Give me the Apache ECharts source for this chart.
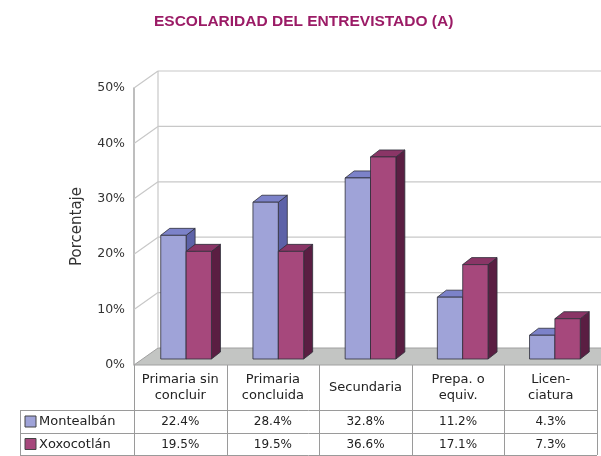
<!DOCTYPE html>
<html>
<head>
<meta charset="utf-8">
<script src="https://cdn.jsdelivr.net/npm/echarts@6/dist/echarts.min.js"></script>
<style>
  html, body { margin: 0; padding: 0; background: #fff; }
  #chart { width: 601px; height: 456px; }
</style>
</head>
<body>
<div id="chart"></div>
<script>
// datos
const categories = ['Primaria sin\nconcluir', 'Primaria\nconcluida', 'Secundaria', 'Prepa. o\nequiv.', 'Licen-\nciatura'];
const seriesNames = ['Montealbán', 'Xoxocotlán'];
const montealban = [22.4, 28.4, 32.8, 11.2, 4.3];
const xoxocotlan = [19.5, 19.5, 36.6, 17.1, 7.3];
const yTicks = [0, 10, 20, 30, 40, 50];

const FONT = '"DejaVu Sans", sans-serif';
const blue = { front: '#9fa3d8', top: '#7c82c9', side: '#5d62a8' };
const red = { front: '#a6487c', top: '#8a3566', side: '#5a1e42' };

// desplazamiento de la pared del fondo (pseudo 3D)
const wallDX = 24, wallDY = -17;
// profundidad de cada barra
const barDX = 9, barDY = -7;

const chart = echarts.init(document.getElementById('chart'));

// barra 3D: cara frontal + tapa + lado
const makeBars = (name, values, side, col) => ({
  name: name,
  type: 'custom',
  xAxisIndex: 1,
  yAxisIndex: 1,
  silent: true,
  z: 5,
  data: values.map((v, i) => [i, v]),
  renderItem: (params, api) => {
    const i = api.value(0), v = api.value(1);
    const top = api.coord([i, v]);
    const base = api.coord([i, 0]);
    const band = api.size([1, 0])[0];
    const w = band * 0.275;
    const x = side === 0 ? top[0] - w : top[0];
    const y = top[1], b = base[1];
    const line = { stroke: '#2e2e3a', lineWidth: 0.8 };
    return {
      type: 'group',
      children: [
        { type: 'polygon', shape: { points: [[x + w, y], [x + w + barDX, y + barDY], [x + w + barDX, b + barDY], [x + w, b]] },
          style: Object.assign({ fill: col.side }, line) },
        { type: 'polygon', shape: { points: [[x, y], [x + w, y], [x + w + barDX, y + barDY], [x + barDX, y + barDY]] },
          style: Object.assign({ fill: col.top }, line) },
        { type: 'rect', shape: { x: x, y: y, width: w, height: b - y },
          style: Object.assign({ fill: col.front }, line) }
      ]
    };
  }
});

// paredes: diagonales, líneas del fondo y piso
const wallSeries = {
  type: 'custom',
  xAxisIndex: 0,
  yAxisIndex: 0,
  silent: true,
  z: 1,
  data: yTicks.map(v => [0, v]),
  renderItem: (params, api) => {
    const v = api.value(1);
    const p = api.coord([0, v]);
    const band = api.size([1, 0])[0];
    const x0 = p[0] - band / 2;
    const y0 = p[1];
    const xEnd = params.coordSys.x + params.coordSys.width + 40;
    const grey = { stroke: '#c8c8c8', lineWidth: 1.2 };
    const children = [];
    if (v === 0) {
      const top = api.coord([0, yTicks[yTicks.length - 1]]);
      children.push({ type: 'polygon', shape: { points: [[x0, y0], [x0 + wallDX, y0 + wallDY], [xEnd + wallDX, y0 + wallDY], [xEnd, y0]] },
        style: { fill: '#c3c5c3', stroke: '#a0a0a0', lineWidth: 1 } });
      children.push({ type: 'line', shape: { x1: x0 + wallDX, y1: y0 + wallDY, x2: x0 + wallDX, y2: top[1] + wallDY }, style: grey });
    } else {
      children.push({ type: 'line', shape: { x1: x0, y1: y0, x2: x0 + wallDX, y2: y0 + wallDY }, style: grey });
      children.push({ type: 'line', shape: { x1: x0 + wallDX, y1: y0 + wallDY, x2: xEnd, y2: y0 + wallDY }, style: grey });
    }
    return { type: 'group', children: children };
  }
};

// tabla de datos debajo de la gráfica
const tableLeft = 134, tableRight = 597, legendLeft = 20;
const headTop = 365, row1 = 410, row2 = 433, row3 = 455;
const colW = (tableRight - tableLeft) / categories.length;
const tableLine = { stroke: '#9a9a9a', lineWidth: 1 };
const graphics = [];
for (let k = 0; k <= categories.length; k++) {
  const x = Math.round(tableLeft + k * colW) + 0.5;
  graphics.push({ type: 'line', shape: { x1: x, y1: headTop, x2: x, y2: row3 }, style: tableLine });
}
graphics.push({ type: 'line', shape: { x1: legendLeft + 0.5, y1: row1, x2: legendLeft + 0.5, y2: row3 }, style: tableLine });
[row1, row2, row3].forEach(y => {
  graphics.push({ type: 'line', shape: { x1: legendLeft, y1: y + 0.5, x2: tableRight, y2: y + 0.5 }, style: tableLine });
});
[[montealban, blue, row1], [xoxocotlan, red, row2]].forEach((r, s) => {
  const yc = (r[2] + (s === 0 ? row2 : row3)) / 2 + 0.5;
  graphics.push({ type: 'rect', shape: { x: legendLeft + 5, y: yc - 6, width: 11, height: 11 },
    style: { fill: r[1].front, stroke: '#444', lineWidth: 1 } });
  graphics.push({ type: 'text', x: legendLeft + 19, y: yc,
    style: { text: seriesNames[s], font: '13px ' + FONT, fill: '#222', verticalAlign: 'middle' } });
  r[0].forEach((v, i) => {
    graphics.push({ type: 'text', x: tableLeft + colW * (i + 0.5), y: yc,
      style: { text: v.toFixed(1) + '%', font: '12px ' + FONT, fill: '#222', align: 'center', verticalAlign: 'middle' } });
  });
});

const option = {
  animation: false,
  title: {
    text: 'ESCOLARIDAD DEL ENTREVISTADO (A)',
    left: 149,
    top: 9,
    textStyle: { fontFamily: '"Liberation Sans", Arial, sans-serif', fontSize: 15.5, fontWeight: 'bold', color: '#9b1b66' }
  },
  grid: [
    { left: tableLeft, right: 601 - tableRight, top: 88, bottom: 456 - headTop },
    { left: 140, right: 601 - tableRight - 6, top: 83, bottom: 456 - 359 }
  ],
  xAxis: [
    { type: 'category', gridIndex: 0, data: categories,
      axisLine: { show: false }, axisTick: { show: false },
      axisLabel: { interval: 0, margin: 23, verticalAlign: 'middle', fontFamily: FONT, fontSize: 13, color: '#222', lineHeight: 16 } },
    { type: 'category', gridIndex: 1, data: categories, show: false }
  ],
  yAxis: [
    { type: 'value', gridIndex: 0, min: 0, max: 50, interval: 10,
      name: 'Porcentaje', nameLocation: 'middle', nameGap: 49,
      nameTextStyle: { fontFamily: FONT, fontSize: 15, color: '#333' },
      axisLine: { show: true, lineStyle: { color: '#a8a8a8', width: 1.5 } },
      axisTick: { show: false }, splitLine: { show: false },
      axisLabel: { formatter: '{value}%', margin: 9, fontFamily: FONT, fontSize: 12.5, color: '#333' } },
    { type: 'value', gridIndex: 1, min: 0, max: 50, interval: 10, show: false, splitLine: { show: false } }
  ],
  series: [
    wallSeries,
    makeBars(seriesNames[0], montealban, 0, blue),
    makeBars(seriesNames[1], xoxocotlan, 1, red)
  ],
  graphic: graphics
};
chart.setOption(option);
</script>
</body>
</html>
